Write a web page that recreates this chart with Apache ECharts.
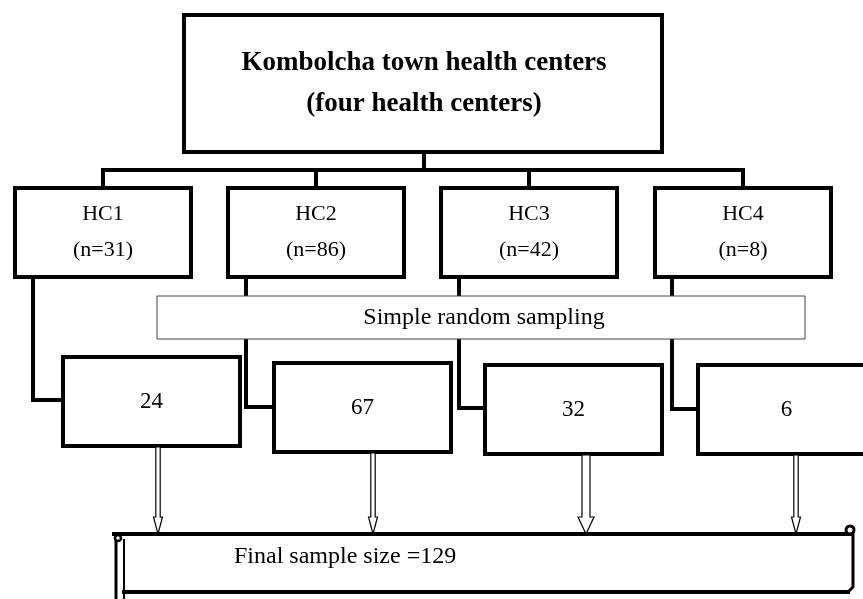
<!DOCTYPE html>
<html>
<head>
<meta charset="utf-8">
<script src="https://cdn.jsdelivr.net/npm/echarts@6/dist/echarts.min.js"></script>
<style>
  html, body { margin: 0; padding: 0; background: #fff; }
  #chart { width: 863px; height: 599px; }
</style>
</head>
<body>
<div id="chart"></div>
<script>
// chart content
const titleLines = ['Kombolcha town health centers', '(four health centers)'];
const centers = ['HC1', 'HC2', 'HC3', 'HC4'];
const population = [31, 86, 42, 8];
const sampled = [24, 67, 32, 6];
const methodLabel = 'Simple random sampling';
const finalSize = 129;

// layout (diagram units = pixels of the 863x599 canvas)
const hcLeft = [15, 228, 441, 655];
const hcTop = 188, hcW = 176, hcH = 89;
const elbowX = [33, 246, 459, 672];
const elbowY = [400, 407, 408, 409];
const smpLeft = [63, 274, 485, 698];
const smpTop = [357, 363, 365, 365];
const smpW = 177, smpH = 89;
const arrowX = [158, 373, 586, 796];
const arrowShaft = [2.2, 2.2, 4, 2.2];
const arrowHead = [4.5, 4.5, 8, 4.5];

const FONT = '"Liberation Serif", "DejaVu Serif", serif';
const THICK = 4;

const chart = echarts.init(document.getElementById('chart'));

function pt(api, x, y) { return api.coord([x, y]); }

function boxRect(api, x, y, w, h, lw, color) {
  const a = pt(api, x, y), b = pt(api, x + w, y + h);
  return {
    type: 'rect',
    shape: { x: a[0], y: a[1], width: b[0] - a[0], height: b[1] - a[1] },
    style: { fill: '#fff', stroke: color || '#000', lineWidth: lw }
  };
}

function poly(api, pts, lw) {
  return {
    type: 'polyline',
    shape: { points: pts.map(p => pt(api, p[0], p[1])) },
    style: { stroke: '#000', lineWidth: lw, fill: null, lineJoin: 'miter', lineCap: 'square' }
  };
}

function txt(api, x, y, s, size, weight, align) {
  const p = pt(api, x, y);
  return {
    type: 'text',
    x: p[0], y: p[1],
    style: {
      text: s, fill: '#000', font: (weight || 'normal') + ' ' + size + 'px ' + FONT,
      align: align || 'center', verticalAlign: 'middle'
    }
  };
}

// top box + tree trunk
function renderTop(params, api) {
  const midX = hcLeft.map(l => l + hcW / 2);
  return {
    type: 'group',
    children: [
      poly(api, [[424, 152], [424, 170]], THICK),
      poly(api, [[midX[0], 170], [midX[3], 170]], THICK),
      boxRect(api, 184, 15, 478, 137, THICK),
      txt(api, 424, 63, titleLines[0], 27, 'bold'),
      txt(api, 424, 104, titleLines[1], 27, 'bold')
    ]
  };
}

// connectors from each health center to its sample box
function renderLinks(params, api) {
  const i = api.value(0);
  const cx = hcLeft[i] + hcW / 2;
  return {
    type: 'group',
    children: [
      poly(api, [[cx, 170], [cx, hcTop]], THICK),
      poly(api, [[elbowX[i], hcTop + hcH], [elbowX[i], elbowY[i]], [smpLeft[i], elbowY[i]]], THICK)
    ]
  };
}

// health center boxes and sample boxes
function renderBoxes(params, api) {
  const i = api.value(0);
  const cx = hcLeft[i] + hcW / 2;
  const sx = smpLeft[i] + smpW / 2;
  const sy = smpTop[i] + smpH / 2;
  return {
    type: 'group',
    children: [
      boxRect(api, hcLeft[i], hcTop, hcW, hcH, THICK),
      txt(api, cx, 214, centers[i], 22),
      txt(api, cx, 250, '(n=' + population[i] + ')', 22),
      boxRect(api, smpLeft[i], smpTop[i], smpW, smpH, THICK),
      txt(api, sx, sy, String(api.value(1)), 23)
    ]
  };
}

// hollow arrows into the final box
function renderArrows(params, api) {
  const i = api.value(0);
  const cx = arrowX[i];
  const y0 = smpTop[i] + smpH + 1, y1 = 534, hl = 17;
  const sw = arrowShaft[i], hw = arrowHead[i];
  const pts = [
    [cx - sw, y0], [cx + sw, y0], [cx + sw, y1 - hl], [cx + hw, y1 - hl],
    [cx, y1], [cx - hw, y1 - hl], [cx - sw, y1 - hl]
  ].map(p => pt(api, p[0], p[1]));
  return {
    type: 'polygon',
    shape: { points: pts },
    style: { fill: '#fff', stroke: '#000', lineWidth: 1.2 }
  };
}

// sampling band
function renderMethod(params, api) {
  return {
    type: 'group',
    children: [
      boxRect(api, 157, 296, 648, 43, 1, '#444'),
      txt(api, 484, 318, methodLabel, 24)
    ]
  };
}

// scroll-shaped final box
function renderFinal(params, api) {
  const c1 = pt(api, 850, 530), c2 = pt(api, 118, 538);
  return {
    type: 'group',
    children: [
      poly(api, [[114, 534], [850, 534]], THICK),
      poly(api, [[124, 592], [848, 592]], THICK),
      {
        type: 'polyline',
        shape: { points: [pt(api, 853, 531), pt(api, 853, 587), pt(api, 848, 592)] },
        style: { stroke: '#000', lineWidth: 3, fill: null }
      },
      poly(api, [[116, 537], [116, 599]], 3),
      poly(api, [[124, 540], [124, 599]], 2),
      { type: 'circle', shape: { cx: c1[0], cy: c1[1], r: 4 }, style: { fill: '#fff', stroke: '#000', lineWidth: 3 } },
      { type: 'circle', shape: { cx: c2[0], cy: c2[1], r: 3 }, style: { fill: '#fff', stroke: '#000', lineWidth: 2.5 } },
      txt(api, 234, 557, 'Final sample size =' + finalSize, 24, 'normal', 'left')
    ]
  };
}

const idx = centers.map((c, i) => [i, sampled[i]]);

chart.setOption({
  animation: false,
  grid: { left: 0, right: 0, top: 0, bottom: 0 },
  xAxis: { type: 'value', min: 0, max: 863, show: false },
  yAxis: { type: 'value', min: 0, max: 599, inverse: true, show: false },
  series: [
    { type: 'custom', z: 1, renderItem: renderTop, data: [[0]], clip: false },
    { type: 'custom', z: 2, renderItem: renderLinks, data: idx, clip: false },
    { type: 'custom', z: 3, renderItem: renderMethod, data: [[0]], clip: false },
    { type: 'custom', z: 4, renderItem: renderBoxes, data: idx, clip: false },
    { type: 'custom', z: 5, renderItem: renderArrows, data: idx, clip: false },
    { type: 'custom', z: 6, renderItem: renderFinal, data: [[0]], clip: false }
  ]
});
</script>
</body>
</html>
